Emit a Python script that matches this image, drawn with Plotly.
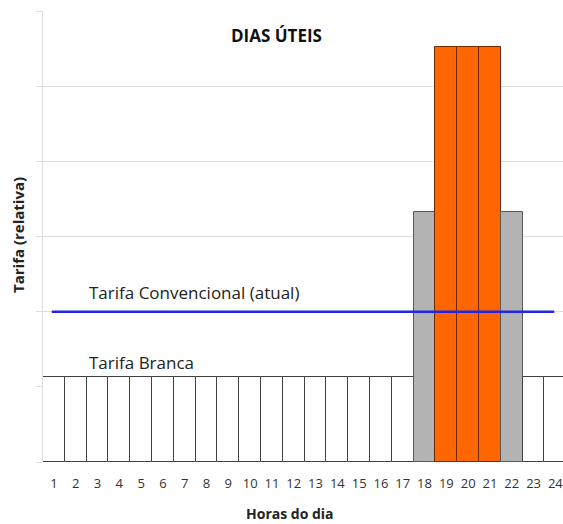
import plotly.graph_objects as go

hours = list(range(1, 25))
tariff_branca = [1.13]*17 + [3.32, 5.52, 5.52, 5.52, 3.32, 1.13, 1.13]
bar_colors = ["#ffffff"]*17 + ["#b3b3b3", "#ff6600", "#ff6600", "#ff6600", "#b3b3b3", "#ffffff", "#ffffff"]
line_colors = ["#404040"]*17 + ["#595959", "#6b2a00", "#6b2a00", "#6b2a00", "#595959", "#404040", "#404040"]
conv_x = [0.9, 23.95]
conv_y = [2.0, 2.0]
tick_labels = [str(h) for h in hours]

fig = go.Figure()
fig.add_trace(go.Bar(x=hours, y=tariff_branca, width=1,
                     marker=dict(color=bar_colors, line=dict(color=line_colors, width=1)),
                     showlegend=False, hoverinfo="skip"))
fig.add_trace(go.Scatter(x=conv_x, y=conv_y, mode="lines",
                         line=dict(color="#2424e6", width=2.5), showlegend=False, hoverinfo="skip"))

fig.update_layout(
    width=563, height=524,
    margin=dict(l=43, r=0, t=11, b=62),
    plot_bgcolor="white", paper_bgcolor="white",
    font=dict(family="Open Sans", color="#222"),
    bargap=0,
    xaxis=dict(range=[0.5, 24.35], tickmode="array", tickvals=hours, ticktext=tick_labels,
               showgrid=False, zeroline=False, showline=False, ticks="",
               tickfont=dict(size=13, color="#333"), ticklabelstandoff=12,
               ticklabeloverflow="allow", automargin=False),
    yaxis=dict(range=[0, 6], dtick=1, showgrid=True, gridcolor="#dcdcdc", gridwidth=1,
               zeroline=False, showline=True, linecolor="#dcdcdc", linewidth=1,
               ticks="outside", ticklen=6, tickcolor="#dcdcdc", showticklabels=False,
               automargin=False),
    annotations=[
        dict(x=2.52, y=2.25, xref="x", yref="y", text="Tarifa Convencional (atual)", showarrow=False,
             xanchor="left", yanchor="middle", font=dict(size=17, color="#222")),
        dict(x=2.52, y=1.33, xref="x", yref="y", text="Tarifa Branca", showarrow=False,
             xanchor="left", yanchor="middle", font=dict(size=17, color="#222")),
        dict(x=(276-43)/520, y=(462-35)/451, xref="paper", yref="paper",
             text="<b>DIAS ÚTEIS</b>", showarrow=False, xanchor="center", yanchor="middle",
             font=dict(size=17, color="#111")),
        dict(x=(290-43)/520, y=(462-513)/451, xref="paper", yref="paper",
             text="<b>Horas do dia</b>", showarrow=False, xanchor="center", yanchor="middle",
             font=dict(size=14, color="#222")),
        dict(x=(18-43)/520, y=(462-235)/451, xref="paper", yref="paper", textangle=-90,
             text="<b>Tarifa (relativa)</b>", showarrow=False, xanchor="center", yanchor="middle",
             font=dict(size=15, color="#222")),
    ],
)
fig.write_html("out.html", config={"displayModeBar": False},
               post_script="document.body.style.margin='0';document.body.style.overflow='hidden';")
